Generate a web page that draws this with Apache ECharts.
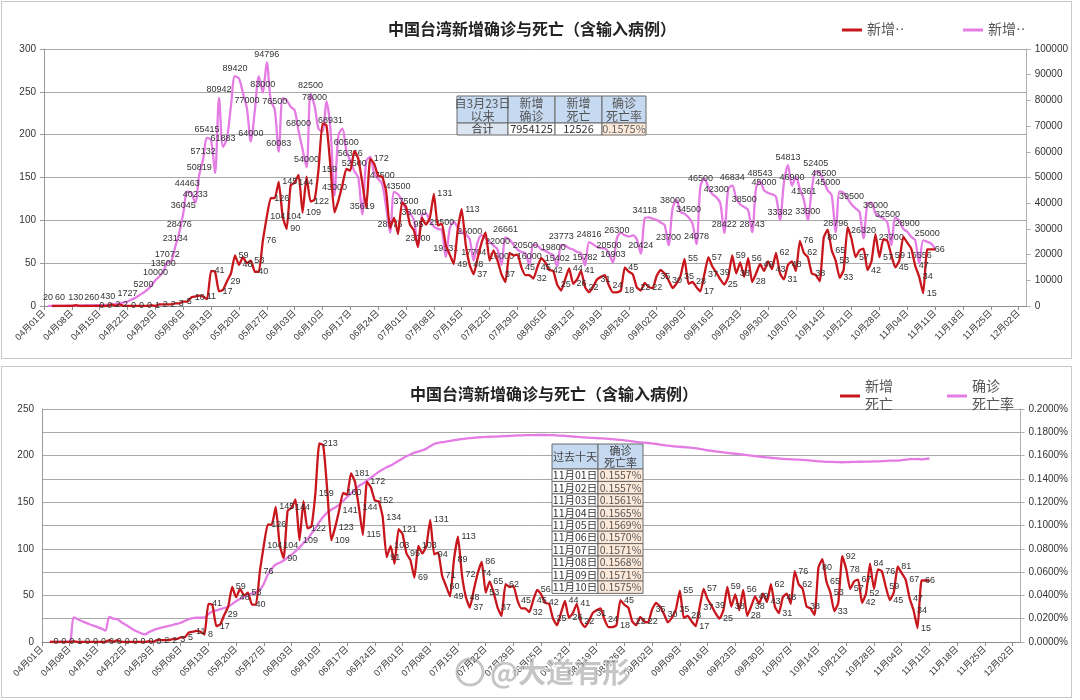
<!DOCTYPE html>
<html><head><meta charset="utf-8">
<script src="https://cdn.jsdelivr.net/npm/echarts@6/dist/echarts.min.js"></script>
<style>
html,body{margin:0;padding:0;background:#fff;width:1080px;height:700px;overflow:hidden}
#c1{position:absolute;left:1px;top:1px;width:1071px;height:358px;border:1px solid #c8c8c8;box-sizing:border-box}
#c2{position:absolute;left:1px;top:366px;width:1071px;height:332px;border:1px solid #c8c8c8;box-sizing:border-box}
</style></head>
<body>
<div id="c1"></div>
<div id="c2"></div>
<script>
// ---------------- data ----------------
const startDate = '2022-04-01';
const dayCount = 248;               // 04月01日 .. 12月04日
const titleText = '中国台湾新增确诊与死亡（含输入病例）';

// daily new deaths (index 0 = 04月01日)
const deaths = [null,null,0,0,0,0,0,0,1,0,
 0,0,0,0,0,0,0,2,0,2,
 0,0,0,0,0,0,0,1,0,2,
 2,2,2,3,3,5,5,10,11,12,
 11,8,41,40,17,19,29,38,59,48,
 57,50,53,40,40,76,104,126,126,145,
 104,90,141,144,153,109,151,122,124,159,
 213,211,163,109,123,141,160,158,181,172,
 144,115,172,166,152,151,134,91,103,84,
 121,116,95,88,69,103,95,103,131,94,
 96,71,60,49,89,113,72,48,37,56,
 74,86,53,65,53,37,28,62,59,60,
 45,36,36,32,45,56,51,42,41,25,
 18,31,44,26,31,41,22,16,22,31,
 34,36,24,16,16,18,45,40,37,22,
 18,27,22,21,35,42,38,30,21,26,
 35,55,26,28,22,17,37,57,46,39,
 31,25,34,59,38,51,34,56,28,38,
 49,41,52,43,62,38,31,48,52,41,
 76,62,57,38,36,29,80,89,65,53,
 33,42,92,78,57,65,67,42,52,84,
 57,78,76,59,45,53,81,74,67,47,
 34,15,66,66,66];

// daily new confirmed cases (index 0 = 04月01日)
const confirmed = [null,20,30,50,60,80,90,100,130,160,
 200,230,260,300,340,380,430,500,700,1000,
 1400,1727,2500,3200,4204,5200,6336,8000,10000,11508,
 13500,17072,17500,23134,28476,36045,44463,44000,40233,50819,
 57132,65415,64500,51731,80942,61883,65369,78000,89420,88500,
 82979,77000,64000,76000,89345,83000,94796,80000,76500,60083,
 80828,80070,77500,76205,68000,61000,54000,82500,78000,69000,
 68000,79616,68931,43000,66500,69000,60500,56366,52500,50000,
 35619,56500,58000,51500,49500,47500,38600,28576,44400,43500,
 41000,37500,36000,33400,23000,35400,36000,33000,31000,30000,
 29500,19131,30115,32800,30500,28500,27854,26000,17704,24822,
 27600,26500,25000,23500,22000,16000,26661,25800,23900,22000,
 21000,20500,16000,23892,23500,22044,21500,20500,19800,15402,
 23773,23500,22500,22000,21000,20500,15782,24816,24000,23000,
 22500,22380,20500,16903,26300,28531,27500,27000,27500,26000,
 20424,34118,34500,34000,33500,32500,31440,23700,38000,41249,
 36600,35830,34500,32105,24078,46500,49660,46200,43500,42300,
 40000,28422,45600,46834,42000,39572,38500,37300,28743,46000,
 48543,45000,44000,43500,42500,33382,48000,54813,46900,50200,
 45600,41361,33500,45500,52405,51800,48500,45000,43100,28796,
 44566,44000,41800,39500,38000,36600,26320,39900,40254,36000,
 34800,34000,32500,23700,34400,33184,30000,28900,26900,25500,
 16556,25567,25000,24300,22331];

// cumulative case fatality rate, in percent (index 0 = 04月01日)
const fatalityRate = [null,null,0,0,0,0,0,0,0.0212,0.0195,
 0.0180,0.0166,0.0152,0.0140,0.0128,0.0115,0.0098,0.0216,0.0200,0.0195,
 0.0172,0.0150,0.0128,0.0108,0.0090,0.0075,0.0066,0.0085,0.0100,0.0112,
 0.0122,0.0130,0.0138,0.0146,0.0155,0.0165,0.0180,0.0195,0.0205,0.0208,
 0.0208,0.0210,0.0240,0.0262,0.0272,0.0282,0.0292,0.0305,0.0325,0.0350,
 0.0370,0.0390,0.0405,0.0418,0.0428,0.0445,0.0500,0.0580,0.0630,0.0665,
 0.0680,0.0700,0.0725,0.0750,0.0780,0.0810,0.0850,0.0885,0.0930,0.0975,
 0.1030,0.1075,0.1110,0.1135,0.1155,0.1180,0.1210,0.1245,0.1275,0.1305,
 0.1340,0.1360,0.1385,0.1410,0.1435,0.1460,0.1480,0.1500,0.1515,0.1535,
 0.1555,0.1575,0.1595,0.1610,0.1625,0.1635,0.1645,0.1660,0.1680,0.1700,
 0.1710,0.1715,0.1720,0.1726,0.1732,0.1738,0.1742,0.1746,0.1750,0.1753,
 0.1756,0.1758,0.1760,0.1762,0.1763,0.1764,0.1766,0.1767,0.1769,0.1771,
 0.1773,0.1774,0.1775,0.1775,0.1776,0.1777,0.1777,0.1777,0.1776,0.1775,
 0.1773,0.1771,0.1769,0.1766,0.1764,0.1761,0.1758,0.1756,0.1754,0.1752,
 0.1750,0.1748,0.1746,0.1744,0.1741,0.1738,0.1735,0.1731,0.1727,0.1723,
 0.1718,0.1714,0.1711,0.1708,0.1705,0.1700,0.1695,0.1690,0.1685,0.1681,
 0.1678,0.1676,0.1673,0.1670,0.1667,0.1664,0.1658,0.1652,0.1646,0.1641,
 0.1636,0.1632,0.1628,0.1624,0.1620,0.1616,0.1612,0.1608,0.1604,0.1600,
 0.1596,0.1592,0.1588,0.1584,0.1581,0.1578,0.1575,0.1572,0.1570,0.1568,
 0.1566,0.1565,0.1564,0.1561,0.1558,0.1555,0.1551,0.1549,0.1547,0.1546,
 0.1545,0.1544,0.1543,0.1544,0.1545,0.1546,0.1547,0.1547,0.1548,0.1549,
 0.1550,0.1551,0.1552,0.1554,0.1556,0.1557,0.1557,0.1561,0.1565,0.1569,
 0.1570,0.1571,0.1568,0.1571,0.1575];

// summary table (top chart)
const summaryHeader = ['自3月23日\n以来', '新增\n确诊', '新增\n死亡', '确诊\n死亡率'];
const summaryRow = ['合计', '7954125', '12526', '0.1575%'];
// last ten days table (bottom chart)
const tenDayHeader = ['过去十天', '确诊\n死亡率'];
const tenDayDates = ['11月01日','11月02日','11月03日','11月04日','11月05日','11月06日','11月07日','11月08日','11月09日','11月10日'];
const tenDayRates = ['0.1557%','0.1557%','0.1561%','0.1565%','0.1569%','0.1570%','0.1571%','0.1568%','0.1571%','0.1575%'];

// legend names
const topDeathName = '新增··';
const topCaseName = '新增·· ';
const botDeathName = '新增\n死亡';
const botRateName = '确诊\n死亡率';

// ---------------- helpers ----------------
function pad(n){return (n<10?'0':'')+n;}
const categories = [];
{
  const d0 = new Date(startDate + 'T00:00:00Z');
  for (let i = 0; i < dayCount; i++) {
    const d = new Date(d0.getTime() + i * 86400000);
    categories.push(pad(d.getUTCMonth()+1) + '月' + pad(d.getUTCDate()) + '日');
  }
}
const RED = '#c8161d', VIOLET = '#e47ce4';
const FONT = "'Liberation Sans','Noto Sans CJK SC',sans-serif";
const CJK = "'Noto Sans CJK SC',sans-serif";
const LEGFONT = "'Liberation Serif','Noto Sans CJK SC',serif";

function cell(x, y, w, h, fill, text, size, color) {
  return [
    {type:'rect', shape:{x:x, y:y, width:w, height:h}, style:{fill:fill, stroke:'#6a6a6a', lineWidth:1}, z:100},
    {type:'text', x:x + w/2, y:y + h/2, z:101,
     style:{text:text, fill:color, font:size + 'px ' + CJK, align:'center', verticalAlign:'middle',
            textAlign:'center', textVerticalAlign:'middle', lineHeight:size + 1}}
  ];
}

function xAxisCfg() {
  return {
    type:'category', data:categories, boundaryGap:false,
    axisLine:{show:true, lineStyle:{color:'#8c8c8c'}},
    axisTick:{show:true, interval:6, length:4, lineStyle:{color:'#8c8c8c'}},
    axisLabel:{interval:6, rotate:45, fontSize:9, color:'#333', fontFamily:FONT, margin:6},
    splitLine:{show:false}
  };
}
const numLabel = {show:true, fontSize:9, color:'#333', fontFamily:FONT};
const legendText = {fontSize:14, color:'#555', fontFamily:LEGFONT};

// ---------------- top chart ----------------
const chart1 = echarts.init(document.getElementById('c1'), null, {renderer:'canvas'});
const g1 = [];
const t1x = [455, 506, 553, 600, 644], t1y = [94, 121, 133];
const headFill = '#c5d9f1', rowFill = ['#dbe5f1', '#ffffff', '#ffffff', '#fde9d9'];
for (let c = 0; c < 4; c++) {
  g1.push(...cell(t1x[c], t1y[0], t1x[c+1]-t1x[c], t1y[1]-t1y[0], headFill, summaryHeader[c], 12, '#555'));
  g1.push(...cell(t1x[c], t1y[1], t1x[c+1]-t1x[c], t1y[2]-t1y[1], rowFill[c], summaryRow[c], 11, c===3 ? '#666' : '#333'));
}
chart1.setOption({
  animation:false,
  textStyle:{fontFamily:FONT},
  title:{text:titleText, left:381, top:14, textStyle:{fontSize:16, fontWeight:'bold', color:'#222', fontFamily:CJK}},
  legend:[
    {data:[topDeathName], left:835, top:16, icon:'rect', itemWidth:20, itemHeight:3, itemGap:4, textStyle:legendText},
    {data:[topCaseName], left:956, top:16, icon:'rect', itemWidth:20, itemHeight:3, itemGap:4, textStyle:legendText}
  ],
  grid:{left:42, right:43, top:47, bottom:52, containLabel:false},
  xAxis:xAxisCfg(),
  yAxis:[
    {type:'value', min:0, max:300, interval:50,
     axisLine:{show:true, lineStyle:{color:'#9a9a9a'}}, axisTick:{show:true, length:4},
     axisLabel:{fontSize:10, color:'#333', margin:8},
     splitLine:{show:true, lineStyle:{color:'#a8a8a8', width:1}}},
    {type:'value', min:0, max:100000, interval:10000, position:'right',
     axisLine:{show:true, lineStyle:{color:'#b0b0b0'}}, axisTick:{show:true, length:4},
     axisLabel:{fontSize:10, color:'#333', margin:8, formatter:function(v){return String(v);}},
     splitLine:{show:false}}
  ],
  series:[
    {name:topCaseName, type:'line', yAxisIndex:1, data:confirmed, smooth:0.3,
     symbol:'circle', symbolSize:1, showAllSymbol:true, itemStyle:{color:VIOLET},
     lineStyle:{color:VIOLET, width:2.3}, label:Object.assign({position:'top', distance:3}, numLabel),
     labelLayout:{hideOverlap:true}, z:2},
    {name:topDeathName, type:'line', yAxisIndex:0, data:deaths, smooth:0.15,
     symbol:'circle', symbolSize:1, showAllSymbol:true, itemStyle:{color:RED},
     lineStyle:{color:RED, width:2.3}, label:Object.assign({position:'right', distance:3}, numLabel),
     labelLayout:{hideOverlap:true}, z:3}
  ],
  graphic:g1
});

// ---------------- bottom chart ----------------
const chart2 = echarts.init(document.getElementById('c2'), null, {renderer:'canvas'});
const g2 = [];
const t2x = [550, 596, 641], t2y0 = 77, t2y1 = 102, t2rh = 12.44;
g2.push(...cell(t2x[0], t2y0, t2x[1]-t2x[0], t2y1-t2y0, headFill, tenDayHeader[0], 11, '#444'));
g2.push(...cell(t2x[1], t2y0, t2x[2]-t2x[1], t2y1-t2y0, headFill, tenDayHeader[1], 11, '#444'));
for (let r = 0; r < tenDayDates.length; r++) {
  const y = t2y1 + r * t2rh;
  g2.push(...cell(t2x[0], y, t2x[1]-t2x[0], t2rh, '#ffffff', tenDayDates[r], 10.5, '#333'));
  g2.push(...cell(t2x[1], y, t2x[2]-t2x[1], t2rh, '#fde9d9', tenDayRates[r], 10.5, '#555'));
}
g2.push({type:'text', x:558, y:305, z:200,
  style:{text:'@大道有形', fill:'rgba(150,150,150,0.55)', stroke:'rgba(255,255,255,0.7)', lineWidth:2,
         font:'bold 28px ' + CJK, align:'center', verticalAlign:'middle', textAlign:'center', textVerticalAlign:'middle'}});
g2.push({type:'circle', shape:{cx:468, cy:305, r:13}, z:199,
  style:{fill:'none', stroke:'rgba(150,150,150,0.55)', lineWidth:3}});

chart2.setOption({
  animation:false,
  textStyle:{fontFamily:FONT},
  title:{text:titleText, left:403, top:14, textStyle:{fontSize:16, fontWeight:'bold', color:'#222', fontFamily:CJK}},
  legend:[
    {data:[botDeathName], left:833, top:6, icon:'rect', itemWidth:20, itemHeight:3, itemGap:4, textStyle:Object.assign({lineHeight:18}, legendText)},
    {data:[botRateName], left:940, top:6, icon:'rect', itemWidth:20, itemHeight:3, itemGap:4, textStyle:Object.assign({lineHeight:18}, legendText)}
  ],
  grid:{left:40, right:43, top:42, bottom:55, containLabel:false},
  xAxis:xAxisCfg(),
  yAxis:[
    {type:'value', min:0, max:250, interval:25,
     axisLine:{show:true, lineStyle:{color:'#9a9a9a'}}, axisTick:{show:false},
     axisLabel:{fontSize:10, color:'#333', margin:8, formatter:function(v){return v % 50 === 0 ? String(v) : '';}},
     splitLine:{show:true, lineStyle:{color:'#a8a8a8', width:1}}},
    {type:'value', min:0, max:0.2, interval:0.02, position:'right',
     axisLine:{show:true, lineStyle:{color:'#b0b0b0'}}, axisTick:{show:true, length:4},
     axisLabel:{fontSize:10, color:'#333', margin:8, formatter:function(v){return v.toFixed(4) + '%';}},
     splitLine:{show:false}}
  ],
  series:[
    {name:botRateName, type:'line', yAxisIndex:1, data:fatalityRate, smooth:0.3,
     showSymbol:false, itemStyle:{color:VIOLET}, lineStyle:{color:VIOLET, width:2.3}, z:2},
    {name:botDeathName, type:'line', yAxisIndex:0, data:deaths, smooth:0.15,
     symbol:'circle', symbolSize:1, showAllSymbol:true, itemStyle:{color:RED},
     lineStyle:{color:RED, width:2.3}, label:Object.assign({position:'right', distance:3}, numLabel),
     labelLayout:{hideOverlap:true}, z:3}
  ],
  graphic:g2
});
</script>
</body></html>
